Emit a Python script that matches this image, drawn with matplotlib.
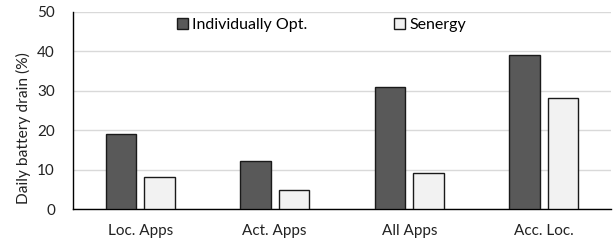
import matplotlib
matplotlib.use("Agg")
import matplotlib.pyplot as plt
import numpy as np
from matplotlib.patches import Patch

categories = ["Loc. Apps", "Act. Apps", "All Apps", "Acc. Loc."]
individually_opt = [19.0, 12.2, 31.0, 39.0]
senergy = [8.1, 4.9, 9.3, 28.1]
yticks = [0, 10, 20, 30, 40, 50]

plt.rcParams['font.family'] = ['Lato', 'DejaVu Sans']

W, H = 615, 243
fig = plt.figure(figsize=(W/100, H/100), dpi=100)
L, R, B, T = 73, 611, 209.3, 11.8
ax = fig.add_axes([L/W, 1-B/H, (R-L)/W, (B-T)/H])

dark, light, edge = "#595959", "#f2f2f2", "#1a1a1a"
x = np.arange(len(categories))
w = 0.23
off = 0.143
ax.bar(x - off, individually_opt, w, color=dark, edgecolor=edge, linewidth=1.0, zorder=3)
ax.bar(x + off, senergy, w, color=light, edgecolor=edge, linewidth=1.0, zorder=3)

ax.set_xlim(-0.5, len(categories) - 0.5)
ax.set_ylim(0, 50)
ax.set_yticks(yticks)
ax.set_yticklabels([str(v) for v in yticks], fontsize=11, color="#222222")
ax.set_xticks(x)
ax.set_xticklabels(categories, fontsize=11, color="#222222")
ax.tick_params(axis='both', length=0)
ax.tick_params(axis='y', pad=13)
ax.tick_params(axis='x', pad=10.5)
ax.yaxis.grid(True, color="#d9d9d9", linewidth=1.0, zorder=0)
ax.set_axisbelow(True)
for s in ["top", "right"]:
    ax.spines[s].set_visible(False)
for s in ["left", "bottom"]:
    ax.spines[s].set_color("#000000")
    ax.spines[s].set_linewidth(1.0)

fig.text(23/W, 1-128/H, "Daily battery drain (%)", rotation=90, fontsize=11.2,
         color="#222222", ha="center", va="center")

fs = 11.5
common = dict(frameon=False, fontsize=fs, handlelength=0.69, handleheight=0.69,
              handletextpad=0.25, borderpad=0, borderaxespad=0, loc="center left")
leg1 = fig.legend(handles=[Patch(facecolor=dark, edgecolor=edge, label="Individually Opt.")],
                  bbox_to_anchor=(177/W, 1-25/H), **common)
leg2 = fig.legend(handles=[Patch(facecolor=light, edgecolor=edge, label="Senergy")],
                  bbox_to_anchor=(394/W, 1-25/H), **common)

fig.savefig("out.png", dpi=100)
